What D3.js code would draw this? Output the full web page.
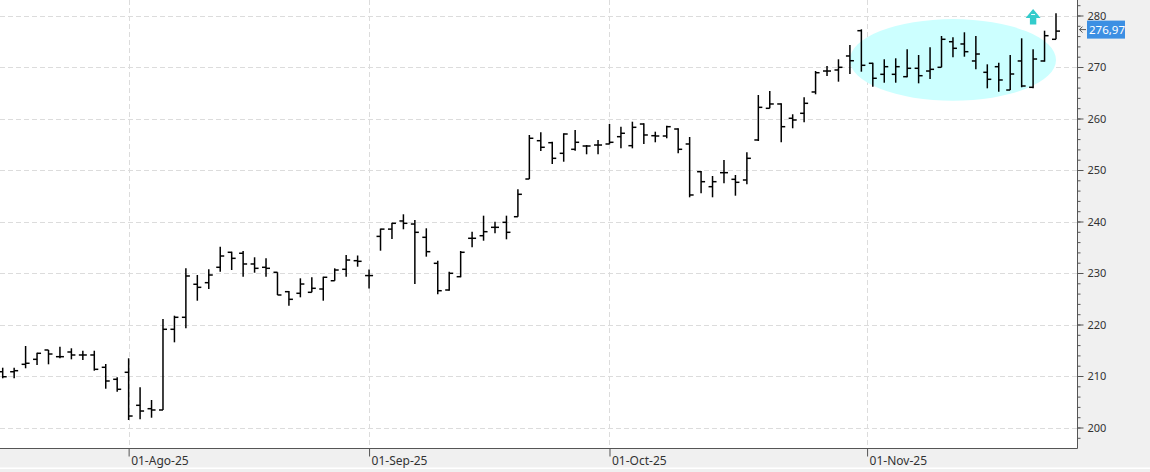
<!DOCTYPE html>
<html>
<head>
<meta charset="utf-8">
<script src="https://cdn.jsdelivr.net/npm/d3@7"></script>
<style>
html, body { margin:0; padding:0; background:#f0f0f0; overflow:hidden; }
svg { display:block; }
text { font-family:"Noto Sans", "Open Sans", sans-serif; }
</style>
</head>
<body>
<svg id="chart" width="1150" height="472"></svg>
<script>
'use strict';

// daily OHLC, one entry per trading session (mid Jul 2025 -> late Nov 2025)
var opens = [
	210.83,210.83,212.27,213.24,215.05,213.75,214.66,214.08,214.08,211.69,209.36,
	210.72,204.31,203.65,203.40,219.07,221.40,227.81,228.12,231.11,234.02,233.83,231.75,231.11,230.14,226.37,226.06,226.25,226.89,228.50,230.72,232.39,
	229.50,237.11,238.52,240.10,239.51,236.93,231.88,226.70,229.28,236.74,237.24,238.87,239.84,240.93,248.25,255.69,255.30,253.24,254.02,254.66,254.85,
	255.05,256.47,254.72,258.93,256.66,256.60,257.96,255.05,249.67,246.76,249.48,248.19,248.06,255.83,261.98,262.82,260.04,261.01,265.15,269.22,269.42,272.14,277.05,
	270.72,268.58,268.58,268.12,269.75,269.22,269.94,274.91,274.47,271.17,268.97,270.06,265.53,271.17,266.06,271.17,275.38
];
var highs = [
	211.61,211.61,215.83,214.52,215.05,215.69,215.38,214.91,214.91,212.33,209.75,
	213.44,207.81,205.34,221.07,221.71,230.91,229.61,230.72,235.11,234.14,234.27,233.05,232.85,230.14,226.50,228.97,229.17,229.28,230.91,233.50,233.40,
	230.66,238.62,239.75,241.40,240.29,238.68,232.39,230.25,234.27,238.02,241.13,239.96,241.13,246.25,256.80,257.32,255.50,257.13,257.77,254.85,255.83,
	258.93,258.41,259.38,259.07,257.44,258.60,258.10,256.41,249.81,248.83,251.94,249.03,253.44,264.56,265.34,262.95,260.82,264.12,269.22,270.19,271.50,274.27,277.32,
	270.83,271.50,271.69,273.44,272.33,273.83,276.02,275.77,276.74,276.02,270.52,270.83,272.33,275.57,273.44,277.05,280.43
];
var lows = [
	209.55,209.55,211.50,212.14,212.27,213.44,213.24,213.11,211.03,207.53,206.95,
	201.46,201.59,201.90,203.40,216.54,219.26,224.62,226.89,230.25,230.58,229.28,230.06,229.28,225.73,223.65,225.28,226.25,224.62,228.50,229.28,231.22,
	226.97,234.33,236.60,238.49,227.86,233.17,225.86,226.56,229.17,234.99,236.27,237.71,236.54,240.93,248.25,253.69,251.17,251.61,253.75,253.05,253.05,
	254.99,254.21,254.21,255.05,255.38,256.16,253.24,244.70,245.48,244.70,247.42,245.01,247.24,255.63,261.98,255.38,258.10,259.26,264.70,268.25,267.15,268.64,269.09,
	266.17,266.95,266.95,268.00,266.83,267.67,269.94,271.88,272.00,269.55,265.86,265.20,265.53,266.06,265.86,271.03,275.38
];
var closes = [
	209.86,211.03,212.47,214.41,214.27,213.75,214.08,214.08,211.30,209.03,207.42,
	202.23,203.20,203.40,219.07,221.40,229.42,227.22,229.61,233.30,232.85,231.75,230.91,230.91,225.73,224.89,227.86,227.03,229.17,230.58,232.52,232.27,
	229.50,238.52,239.65,239.65,237.90,234.14,226.56,229.94,234.02,236.74,238.02,238.87,237.90,245.28,256.16,254.41,252.27,256.99,255.38,254.66,254.85,
	255.38,257.13,258.29,256.80,256.60,258.41,254.02,245.15,247.73,247.73,249.48,247.61,252.27,262.17,262.82,258.41,259.71,262.95,268.89,269.22,269.94,271.22,270.33,
	267.81,270.06,270.06,269.75,268.31,269.55,275.38,273.63,272.97,272.52,267.61,267.48,268.64,266.31,271.55,276.08,276.97
];

// month marks: label + session index (Nov 1st falls on a weekend, between two sessions)
var monthLabels = ['01-Ago-25', '01-Sep-25', '01-Oct-25', '01-Nov-25'];
var monthIndex = [11, 32, 53, 75.5];

var yMajor = [200, 210, 220, 230, 240, 250, 260, 270, 280];
var lastLabel = '276,97';

// highlighted consolidation zone and the buy signal
var zoneFrom = 74, zoneTo = 92, zoneLow = 263.45, zoneHigh = 279.3;
var signalIndex = 90;

var W = 1150, H = 472;
var plotRight = 1077.5, plotBottom = 448.5;

var svg = d3.select('#chart');

var x = d3.scaleLinear().domain([0, closes.length - 1]).range([2.7, 1056]);
var y = d3.scaleLinear().domain([200, 280]).range([427.5, 15.5]);

// backgrounds
svg.append('rect').attr('x', 0).attr('y', 0).attr('width', W).attr('height', H).attr('fill', '#f0f0f0');
svg.append('rect').attr('x', 0).attr('y', 0).attr('width', plotRight).attr('height', plotBottom).attr('fill', '#ffffff');
svg.append('rect').attr('x', 0).attr('y', 467.5).attr('width', W).attr('height', 1.5).attr('fill', '#ffffff');

// grid
var grid = svg.append('g').attr('stroke', '#dcdcdc').attr('stroke-width', 1).attr('stroke-dasharray', '5,3');
grid.selectAll('line.h').data(yMajor).enter().append('line')
	.attr('class', 'h')
	.attr('x1', 0).attr('x2', plotRight)
	.attr('y1', function(d) { return Math.round(y(d)) + 0.5; })
	.attr('y2', function(d) { return Math.round(y(d)) + 0.5; });
grid.selectAll('line.v').data(monthIndex).enter().append('line')
	.attr('class', 'v')
	.attr('y1', 0).attr('y2', plotBottom)
	.attr('x1', function(d) { return Math.round(x(d)) + 0.5; })
	.attr('x2', function(d) { return Math.round(x(d)) + 0.5; });

// highlight ellipse
svg.append('ellipse')
	.attr('cx', (x(zoneFrom) + x(zoneTo)) / 2)
	.attr('cy', (y(zoneLow) + y(zoneHigh)) / 2)
	.attr('rx', (x(zoneTo) - x(zoneFrom)) / 2)
	.attr('ry', (y(zoneLow) - y(zoneHigh)) / 2)
	.attr('fill', '#ccffff');

// OHLC bars
var bars = svg.append('g').attr('stroke', '#000').attr('stroke-width', 1.5).attr('fill', 'none');
var idx = d3.range(closes.length);
var bar = bars.selectAll('g.bar').data(idx).enter().append('g').attr('class', 'bar');
bar.append('line')
	.attr('x1', function(i) { return x(i); }).attr('x2', function(i) { return x(i); })
	.attr('y1', function(i) { return y(highs[i]); }).attr('y2', function(i) { return y(lows[i]); });
bar.append('line')
	.attr('x1', function(i) { return x(i) - 4; }).attr('x2', function(i) { return x(i); })
	.attr('y1', function(i) { return y(opens[i]); }).attr('y2', function(i) { return y(opens[i]); });
bar.append('line')
	.attr('x1', function(i) { return x(i); }).attr('x2', function(i) { return x(i) + 4; })
	.attr('y1', function(i) { return y(closes[i]); }).attr('y2', function(i) { return y(closes[i]); });

// signal arrow
var ax = x(signalIndex), ay = 9;
svg.append('path')
	.attr('d', 'M' + ax + ',' + ay + 'L' + (ax + 7.5) + ',' + (ay + 9) + 'H' + (ax + 3.2) + 'V' + (ay + 15.5) +
		'H' + (ax - 3.2) + 'V' + (ay + 9) + 'H' + (ax - 7.5) + 'Z')
	.attr('fill', '#33cccc');
svg.append('line')
	.attr('x1', ax - 2).attr('x2', ax + 2).attr('y1', ay + 5.5).attr('y2', ay + 5.5)
	.attr('stroke', '#e8ffff').attr('stroke-width', 1);

// right price axis
var yAxisMinor = d3.axisRight(y).tickValues(d3.range(198, 283, 2)).tickSize(3).tickFormat('');
var yAxisMajor = d3.axisRight(y).tickValues(yMajor).tickSize(6).tickPadding(4);
var ya = svg.append('g').attr('transform', 'translate(' + plotRight + ',0)');
ya.call(yAxisMinor);
var yb = svg.append('g').attr('transform', 'translate(' + plotRight + ',0)');
yb.call(yAxisMajor);
[ya, yb].forEach(function(g) {
	g.select('.domain').remove();
	g.selectAll('line').attr('stroke', '#555');
	g.selectAll('text').attr('fill', '#333').style('font-size', '11px');
});
svg.append('line').attr('x1', plotRight).attr('x2', plotRight).attr('y1', 0).attr('y2', plotBottom)
	.attr('stroke', '#555');

// time axis
var xAxis = d3.axisBottom(x).tickValues(monthIndex).tickSize(8)
	.tickFormat(function(d, i) { return monthLabels[i]; });
var xa = svg.append('g').attr('transform', 'translate(0,' + plotBottom + ')').call(xAxis);
xa.select('.domain').remove();
xa.selectAll('line').attr('stroke', '#555');
xa.selectAll('text').attr('text-anchor', 'start').attr('x', 2).attr('y', 16.5).attr('dy', 0)
	.attr('fill', '#333').style('font-size', '12px');
svg.append('line').attr('x1', 0).attr('x2', plotRight).attr('y1', plotBottom).attr('y2', plotBottom)
	.attr('stroke', '#555');

// last price tag
var ly = y(closes[closes.length - 1]) - 1.5;
svg.append('rect').attr('x', 1087).attr('y', ly - 9).attr('width', 38).attr('height', 18).attr('fill', '#3c8fe3');
svg.append('text').attr('x', 1089).attr('y', ly + 4).attr('fill', '#fff').style('font-size', '11.5px').text(lastLabel);
svg.append('path')
	.attr('d', 'M1079.5,' + ly + 'H1086 M1082.5,' + (ly - 3) + 'L1079.5,' + ly + 'L1082.5,' + (ly + 3))
	.attr('stroke', '#555').attr('fill', 'none').attr('stroke-width', 1);
</script>
</body>
</html>
